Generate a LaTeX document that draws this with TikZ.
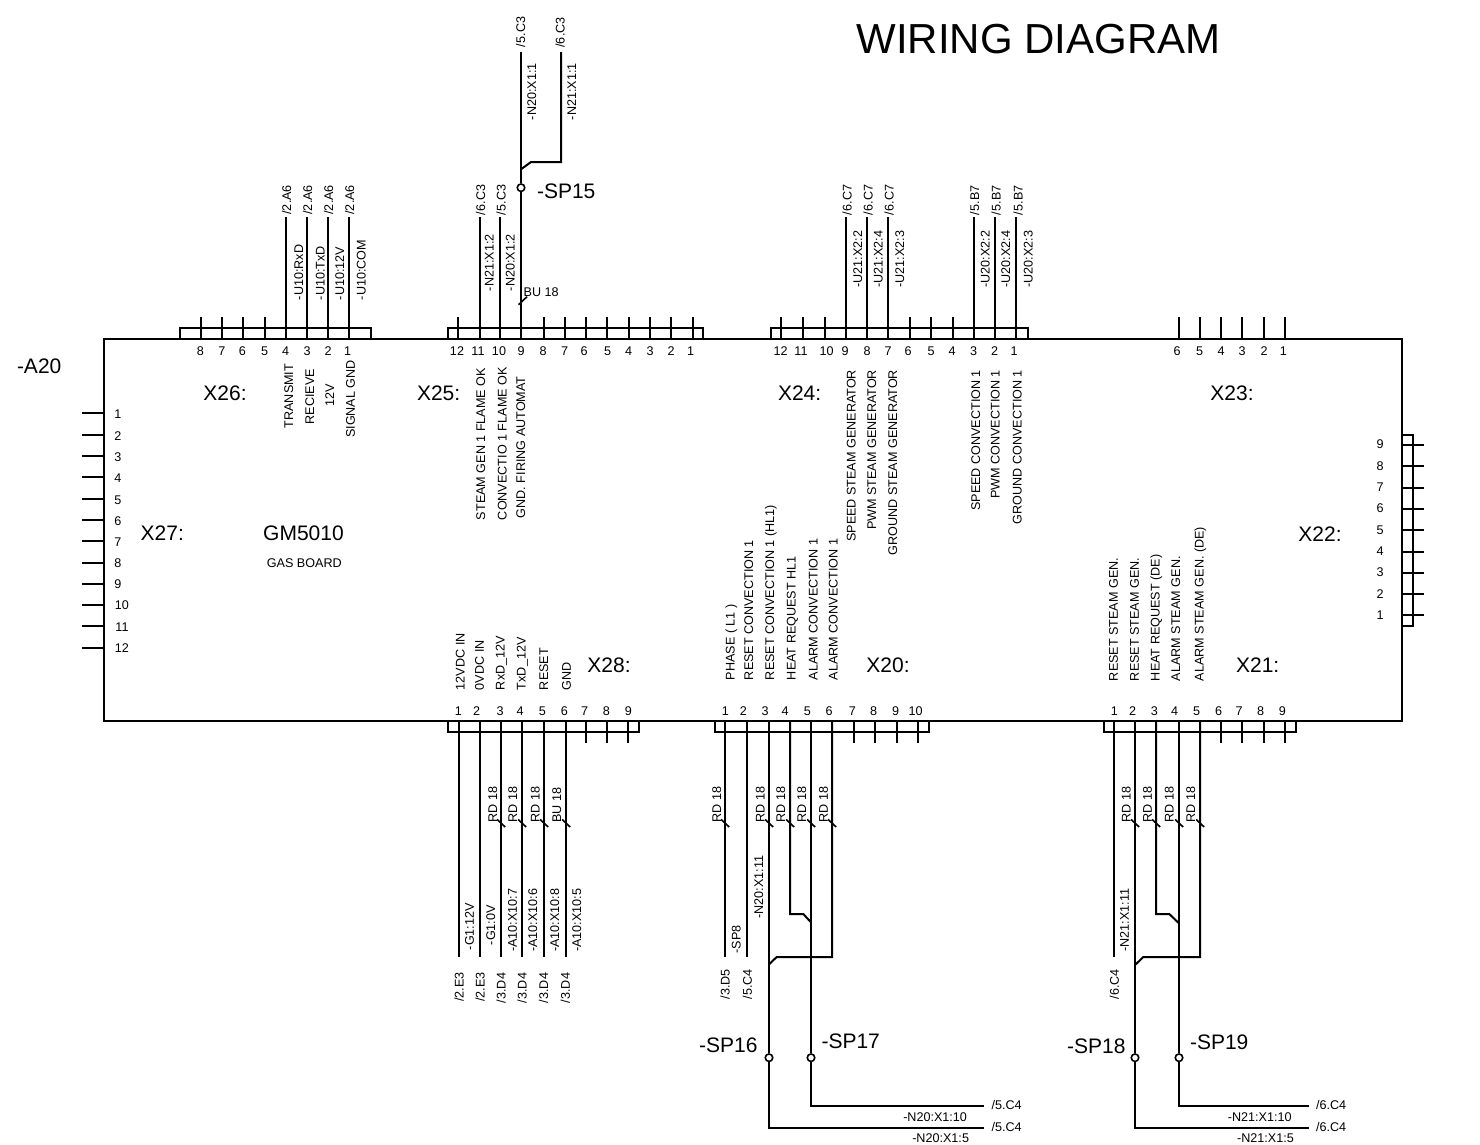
\documentclass[tikz,border=0pt]{standalone}
\usepackage{fontspec}
\setmainfont{Liberation Sans}
\newcounter{tc}
\tikzset{
  base/.style={inner sep=0pt,outer sep=0pt,text depth=0pt},
  sm/.style={base,text height=9pt,font=\fontsize{12.6}{14}\selectfont},
  big/.style={base,text height=15pt,font=\fontsize{21}{24}\selectfont},
  wire/.style={line width=2pt,black},
  tick/.style={line width=1.6pt,black},
  hdr/.style={draw,line width=1.6pt,inner sep=0pt,outer sep=0pt,anchor=north west},
  junct/.style={circle,draw,fill=white,line width=1.6pt,minimum size=7.5pt,inner sep=0pt},
}
% vertical text: [anchor]{x}{y}{text}
\newcommand\vtxt[4][west]{\stepcounter{tc}\node[sm,rotate=90,anchor=#1,name=t\arabic{tc}] at (#2,#3) {#4};}
% horizontal small text
\newcommand\htxt[4][center]{\stepcounter{tc}\node[sm,anchor=#1,name=t\arabic{tc}] at (#2,#3) {#4};}
% big text
\newcommand\btxt[4][center]{\stepcounter{tc}\node[big,anchor=#1,name=t\arabic{tc}] at (#2,#3) {#4};}
% straight wire with named ends, snapped to the pixel grid
\newcommand\vwire[4]{\pgfmathsetmacro\rr{round(#2)}\coordinate (#1-a) at (\rr,#3);\coordinate (#1-b) at (\rr,#4);\draw[wire] (#1-a) -- (#1-b);}
\newcommand\hwire[4]{\pgfmathsetmacro\rr{round(#2)}\coordinate (#1-a) at (#3,\rr);\coordinate (#1-b) at (#4,\rr);\draw[wire] (#1-a) -- (#1-b);}
% cable mark across a wire
\newcommand\cmark[2]{\coordinate (#1-m1) at (#2-3.8,819.5);\coordinate (#1-m2) at (#2+4.2,827);\draw[tick] (#1-m1) -- (#1-m2);}
\begin{document}
\begin{tikzpicture}[x=1pt,y=-1pt]
\useasboundingbox (0,0) rectangle (1480,1144);
\fill[white] (0,0) rectangle (1480,1144);

% connector frames
\node[hdr,minimum width=191pt,minimum height=11pt] (X26) at (180,328) {};
\node[hdr,minimum width=255pt,minimum height=11pt] (X25) at (448,328) {};
\node[hdr,minimum width=257pt,minimum height=11pt] (X24) at (771,328) {};
\node[hdr,minimum width=11pt,minimum height=191pt] (X22) at (1402,435) {};
\node[hdr,minimum width=191pt,minimum height=11pt] (X28) at (448,721) {};
\node[hdr,minimum width=214pt,minimum height=11pt] (X20) at (715,721) {};
\node[hdr,minimum width=192pt,minimum height=11pt] (X21) at (1104,721) {};

% pins without wires
\foreach \x [count=\i] in {201,222,243,265}{\vwire{pa\i}{\x}{317}{339}}
\foreach \x [count=\i] in {458,543.6,565,586,607,628.6,650,671,692.9}{\vwire{pb\i}{\x}{317}{339}}
\foreach \x [count=\i] in {781,803.4,824.8,909.7,931,952.8}{\vwire{pc\i}{\x}{317}{339}}
\foreach \x [count=\i] in {1179,1199.7,1221,1242.4,1263.8,1284.8}{\vwire{pd\i}{\x}{317}{339}}
\foreach \x [count=\i] in {586.3,607.3,628}{\vwire{pe\i}{\x}{721}{743.3}}
\foreach \x [count=\i] in {854,875,897,917.7}{\vwire{pf\i}{\x}{721}{743.3}}
\foreach \x [count=\i] in {1221,1242.3,1263.7,1285}{\vwire{pg\i}{\x}{721}{743.3}}
\foreach \y [count=\i] in {413.3,434.7,456.3,477,499,520,541.3,562.7,583.7,604.7,626.3,647.7}{\hwire{ph\i}{\y}{82.3}{104}}
\foreach \y [count=\i] in {615.3,594.3,573,552.3,530.3,509,488,466,445}{\hwire{pi\i}{\y}{1402}{1424.3}}

% top wires
\foreach \x [count=\i] in {286.4,307,328,349,479.6,500.4,845.5,867,888,973.8,995,1015.9}{\vwire{wt\i}{\x}{217}{339}}

% SP15 group
\node[junct] (SP15) at (521,187.7) {};
\coordinate (w9top) at (521,52);
\coordinate (w9pin) at (521,339);
\coordinate (w21top) at (561,52);
\coordinate (w21c) at (561,162);
\coordinate (w21d) at (531,162);
\coordinate (w21e) at (521,169.3);
\draw[wire] (w9top) -- (SP15) -- (w9pin);
\draw[wire] (w21top) -- (w21c) -- (w21d) -- (w21e);
\coordinate (bum1) at (518.6,304.7);
\coordinate (bum2) at (527,296.7);
\draw[tick] (bum1) -- (bum2);

% X28 wires
\foreach \x [count=\i] in {458.7,479.7,501.3,522,543.7,565.7}{\vwire{wx\i}{\x}{721}{956.7}}
\cmark{m1}{501}\cmark{m2}{522}\cmark{m3}{544}\cmark{m4}{566}

% X20 wires
\vwire{wy1}{725}{721}{956.7}
\vwire{wy2}{747}{721}{956.7}
\node[junct] (SP16) at (769,1057.7) {};
\node[junct] (SP17) at (811,1057.7) {};
\coordinate (y3a) at (769,721);\coordinate (y3b) at (769,1128);\coordinate (y3c) at (983.6,1128);
\draw[wire] (y3a) -- (SP16) -- (y3b) -- (y3c);
\coordinate (y5a) at (811,721);\coordinate (y5b) at (811,1106);\coordinate (y5c) at (983.6,1106);
\draw[wire] (y5a) -- (SP17) -- (y5b) -- (y5c);
\coordinate (y4a) at (790,721);\coordinate (y4b) at (790,914);\coordinate (y4c) at (803.3,914);\coordinate (y4d) at (811,922.3);
\draw[wire] (y4a) -- (y4b) -- (y4c) -- (y4d);
\coordinate (y6a) at (832,721);\coordinate (y6b) at (832,957);\coordinate (y6c) at (776.7,957);\coordinate (y6d) at (769,964.3);
\draw[wire] (y6a) -- (y6b) -- (y6c) -- (y6d);
\cmark{m5}{725}\cmark{m6}{769}\cmark{m7}{790}\cmark{m8}{811}\cmark{m9}{832}

% X21 wires
\vwire{wz1}{1114}{721}{956.7}
\node[junct] (SP18) at (1135,1057.7) {};
\node[junct] (SP19) at (1179,1057.7) {};
\coordinate (z2a) at (1135,721);\coordinate (z2b) at (1135,1128);\coordinate (z2c) at (1308.6,1128);
\draw[wire] (z2a) -- (SP18) -- (z2b) -- (z2c);
\coordinate (z4a) at (1179,721);\coordinate (z4b) at (1179,1106);\coordinate (z4c) at (1308.6,1106);
\draw[wire] (z4a) -- (SP19) -- (z4b) -- (z4c);
\coordinate (z3a) at (1156,721);\coordinate (z3b) at (1156,914);\coordinate (z3c) at (1169.3,914);\coordinate (z3d) at (1179,923.3);
\draw[wire] (z3a) -- (z3b) -- (z3c) -- (z3d);
\coordinate (z5a) at (1200,721);\coordinate (z5b) at (1200,957);\coordinate (z5c) at (1143.3,957);\coordinate (z5d) at (1135,965);
\draw[wire] (z5a) -- (z5b) -- (z5c) -- (z5d);
\cmark{m10}{1135}\cmark{m11}{1156}\cmark{m12}{1179}\cmark{m13}{1200}

% board on top of frames
\node[draw,line width=2pt,inner sep=0pt,outer sep=0pt,anchor=north west,minimum width=1298pt,minimum height=382pt] (board) at (104,339) {};

% big labels
\stepcounter{tc}\node[base,text height=30pt,font=\fontsize{42}{46}\selectfont,name=title] at (1038.5,38.5) {WIRING DIAGRAM};
\btxt[west]{17}{366}{-A20}
\btxt[west]{537}{191}{-SP15}
\btxt{225}{393}{X26:}
\btxt{438.6}{393}{X25:}
\btxt{799.6}{393}{X24:}
\btxt{1232}{393}{X23:}
\btxt{162.3}{533}{X27:}
\btxt{303.5}{533}{GM5010}
\btxt{1320}{534}{X22:}
\btxt{609}{665}{X28:}
\btxt{888}{665}{X20:}
\btxt{1257.7}{665}{X21:}
\btxt[east]{757.5}{1045}{-SP16}
\btxt[west]{821.5}{1041}{-SP17}
\btxt[east]{1125.5}{1045.7}{-SP18}
\btxt[west]{1190}{1042}{-SP19}
\htxt{304.3}{563.3}{GAS BOARD}

% pin numbers
\foreach \x/\n in {200.4/8,222/7,242.5/6,264.6/5,285.7/4,307/3,328/2,347.5/1,
  457/12,478/11,499/10,521/9,543/8,564.6/7,584/6,607.5/5,628.6/4,650/3,671/2,690.7/1,
  780.7/12,801/11,826.5/10,845/9,867/8,888/7,908/6,931/5,952/4,973.5/3,994.5/2,1014/1,
  1177/6,1199.7/5,1221/4,1242/3,1264/2,1283.4/1}{\htxt{\x}{351}{\n}}
\foreach \x/\n in {458.3/1,476.7/2,500/3,520/4,542.3/5,564.3/6,584.7/7,606.3/8,628.3/9,
  725.3/1,743.3/2,765/3,785/4,807.3/5,829/6,852.3/7,873.7/8,895.7/9,915.7/10,
  1114.3/1,1132.7/2,1154.3/3,1174.7/4,1196.7/5,1218.7/6,1239/7,1260.7/8,1282.3/9}{\htxt{\x}{711}{\n}}
\foreach \y [count=\n] in {414,436,457,478,500,521,542,563,584}{\htxt{118}{\y}{\n}}
\foreach \y/\n in {605/10,627/11,648/12}{\htxt{122}{\y}{\n}}
\foreach \y [count=\n] in {614.7,593.7,572.3,551,529.7,508,487,466,444}{\htxt{1380}{\y}{\n}}

% vertical references above
\foreach \x in {286.5,307.5,328.5,349.5}{\vtxt{\x}{214.5}{/2.A6}}
\vtxt{480.7}{215}{/6.C3}
\vtxt{501}{215}{/5.C3}
\vtxt{520.5}{47}{/5.C3}
\vtxt{560}{47.5}{/6.C3}
\vtxt{298.6}{300}{-U10:RxD}
\vtxt{320}{300}{-U10:TxD}
\vtxt{339.6}{300}{-U10:12V}
\vtxt{361}{300}{-U10:COM}
\vtxt{489}{291}{-N21:X1:2}
\vtxt{510}{291}{-N20:X1:2}
\vtxt{531.7}{120}{-N20:X1:1}
\vtxt{571.7}{120}{-N21:X1:1}
\htxt[west]{523.6}{292}{BU 18}
\foreach \x in {847,868,889}{\vtxt{\x}{215}{/6.C7}}
\foreach \x in {974.5,996,1018}{\vtxt{\x}{215}{/5.B7}}
\vtxt{857.6}{287.5}{-U21:X2:2}
\vtxt{878}{287.5}{-U21:X2:4}
\vtxt{899.7}{287.5}{-U21:X2:3}
\vtxt{985}{287.5}{-U20:X2:2}
\vtxt{1005.5}{287.5}{-U20:X2:4}
\vtxt{1028}{287.5}{-U20:X2:3}

% function labels inside board, upper
\vtxt[center]{288.6}{396}{TRANSMIT}
\vtxt[center]{309.6}{396.5}{RECIEVE}
\vtxt[center]{329.6}{395}{12V}
\vtxt[center]{350.4}{399}{SIGNAL GND}
\vtxt{480.7}{520}{STEAM GEN 1 FLAME OK}
\vtxt{502}{520}{CONVECTIO 1 FLAME OK}
\vtxt{520.7}{518}{GND. FIRING AUTOMAT}
\vtxt[east]{851}{370}{SPEED STEAM GENERATOR}
\vtxt[east]{871.5}{370}{PWM STEAM GENERATOR}
\vtxt[east]{892.5}{370}{GROUND STEAM GENERATOR}
\vtxt[east]{975.5}{370}{SPEED CONVECTION 1}
\vtxt[east]{995}{370}{PWM CONVECTION 1}
\vtxt[east]{1017}{370}{GROUND CONVECTION 1}

% function labels, lower
\vtxt{460}{690}{12VDC IN}
\vtxt{479.3}{690}{0VDC IN}
\vtxt{500}{690}{RxD\_12V}
\vtxt{521}{690}{TxD\_12V}
\vtxt{543.7}{690}{RESET}
\vtxt{566.3}{690}{GND}
\vtxt{730}{680}{PHASE ( L1 )}
\vtxt{748.5}{680}{RESET CONVECTION 1}
\vtxt{769.5}{680}{RESET CONVECTION 1 (HL1)}
\vtxt{791}{680}{HEAT REQUEST HL1}
\vtxt{813}{680}{ALARM CONVECTION 1}
\vtxt{833}{680}{ALARM CONVECTION 1}
\vtxt{1113.3}{681}{RESET STEAM GEN.}
\vtxt{1134.3}{681}{RESET STEAM GEN.}
\vtxt{1155}{681}{HEAT REQUEST (DE)}
\vtxt{1175.7}{681}{ALARM STEAM GEN.}
\vtxt{1199}{681}{ALARM STEAM GEN. (DE)}

% cable labels
\foreach \x/\s in {492.7/RD 18,512.7/RD 18,535/RD 18,556.7/BU 18,716.7/RD 18,760/RD 18,780.7/RD 18,801.7/RD 18,823.3/RD 18,1126/RD 18,1147.3/RD 18,1169/RD 18,1190.7/RD 18}{\vtxt{\x}{822.5}{\s}}

% lower designations
\vtxt{469.3}{950}{-G1:12V}
\vtxt{490.7}{945}{-G1:0V}
\vtxt{512.3}{951.7}{-A10:X10:7}
\vtxt{532.7}{951.7}{-A10:X10:6}
\vtxt{554.7}{951.7}{-A10:X10:8}
\vtxt{576.7}{951.7}{-A10:X10:5}
\vtxt{736}{953.3}{-SP8}
\vtxt{758.7}{918.3}{-N20:X1:11}
\vtxt{1124.3}{951.7}{-N21:X1:11}
\vtxt{459}{1001.7}{/2.E3}
\vtxt{480}{1001.7}{/2.E3}
\foreach \x in {501,522,543.7,565.3}{\vtxt{\x}{1003}{/3.D4}}
\vtxt{725}{999.3}{/3.D5}
\vtxt{747.3}{999.3}{/5.C4}
\vtxt{1114.4}{999.3}{/6.C4}

% lower right refs
\htxt[west]{991.6}{1105}{/5.C4}
\htxt[west]{991.6}{1127}{/5.C4}
\htxt[west]{1316}{1105}{/6.C4}
\htxt[west]{1316}{1127}{/6.C4}
\htxt[east]{967}{1116.7}{-N20:X1:10}
\htxt[east]{969}{1138}{-N20:X1:5}
\htxt[east]{1291.6}{1116.7}{-N21:X1:10}
\htxt[east]{1293.8}{1138}{-N21:X1:5}
\end{tikzpicture}
\end{document}
